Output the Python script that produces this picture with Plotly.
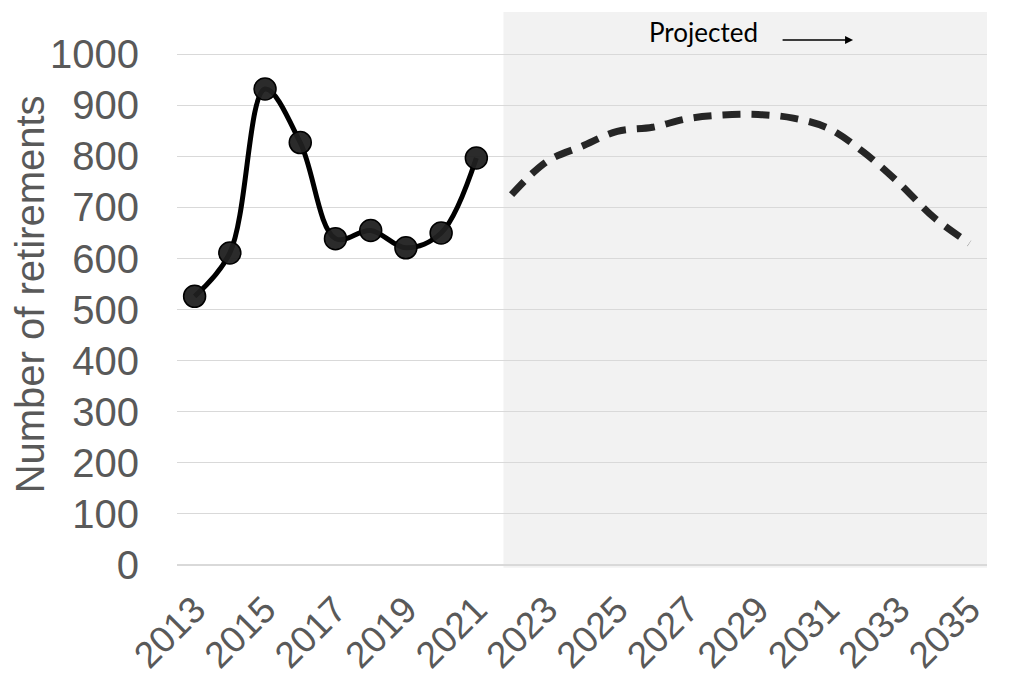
import plotly.graph_objects as go

# Observed retirements, 2013-2021
hist_years = [2013, 2014, 2015, 2016, 2017, 2018, 2019, 2020, 2021]
hist_values = [526, 611, 932, 827, 639, 655, 621, 650, 797]

# Projected retirements, 2022-2035
proj_years = [2022, 2023, 2024, 2025, 2026, 2027, 2028, 2029, 2030, 2031, 2032, 2033, 2034, 2035]
proj_values = [725, 790, 820, 849, 857, 874, 881, 882, 875, 855, 808, 748, 680, 630]

x_ticks = list(range(2013, 2036, 2))
y_ticks = list(range(0, 1001, 100))

W, H = 1009, 682
L, R, T, B = 176.5, 22, 12, 116.5
plot_w = W - L - R
plot_h = H - T - B


def px_x(px):
    return (px - L) / plot_w


def px_y(py):
    return (H - B - py) / plot_h


y_font = dict(family="Liberation Sans, Arial, sans-serif", size=40, color="#595959")
x_font = dict(family="Liberation Sans, Arial, sans-serif", size=37, color="#595959")
grid = "#d9d9d9"

fig = go.Figure()

fig.add_trace(go.Scatter(
    x=proj_years, y=proj_values, mode="lines",
    line=dict(color="#262626", width=7, dash="18px,11px", shape="spline"),
    showlegend=False, hoverinfo="skip",
))

fig.add_trace(go.Scatter(
    x=hist_years, y=hist_values, mode="lines+markers",
    line=dict(color="#000000", width=5, shape="spline"),
    marker=dict(size=22, color="rgba(32,32,32,0.95)", line=dict(color="#000000", width=1.5)),
    showlegend=False, hoverinfo="skip",
))

# Shaded projection period
fig.add_shape(
    type="rect", xref="x", yref="paper",
    x0=2021.77, x1=2035.5, y0=-0.005, y1=1,
    fillcolor="#f2f2f2", line=dict(width=0), layer="below",
)

fig.add_annotation(
    text="Projected", xref="paper", yref="paper",
    x=px_x(703), y=px_y(32), xanchor="center", yanchor="middle", showarrow=False,
    font=dict(family="Lato, Liberation Sans, sans-serif", size=26, color="#000000"),
)
fig.add_annotation(
    text="", xref="paper", yref="paper",
    x=px_x(853), y=px_y(40), ax=-72, ay=0,
    showarrow=True, arrowhead=2, arrowsize=1, arrowwidth=1.6, arrowcolor="#000000",
)

fig.add_annotation(
    text="Number of retirements", xref="paper", yref="paper",
    x=px_x(29), y=px_y(295), xanchor="center", yanchor="middle",
    textangle=-90, showarrow=False,
    font=dict(family="Liberation Sans, Arial, sans-serif", size=40, color="#595959"),
)

fig.update_layout(
    width=W, height=H,
    margin=dict(l=L, r=R, t=T, b=B, pad=0, autoexpand=False),
    paper_bgcolor="white", plot_bgcolor="white",
    xaxis=dict(
        range=[2012.5, 2035.5], tickmode="array", tickvals=x_ticks,
        ticktext=[str(v) for v in x_ticks], tickangle=-45,
        showgrid=False, zeroline=False, showline=False,
        ticks="outside", ticklen=7, tickcolor="rgba(0,0,0,0)",
        tickfont=x_font, automargin=False,
    ),
    yaxis=dict(
        range=[0, plot_h / 0.5112], tickmode="array", tickvals=y_ticks,
        showgrid=True, gridcolor=grid, gridwidth=1.3,
        zeroline=True, zerolinecolor=grid, zerolinewidth=1.5, showline=False,
        ticks="outside", ticklen=29, tickcolor="rgba(0,0,0,0)",
        tickfont=y_font, automargin=False,
    ),
)

fig.write_html("out.html")
